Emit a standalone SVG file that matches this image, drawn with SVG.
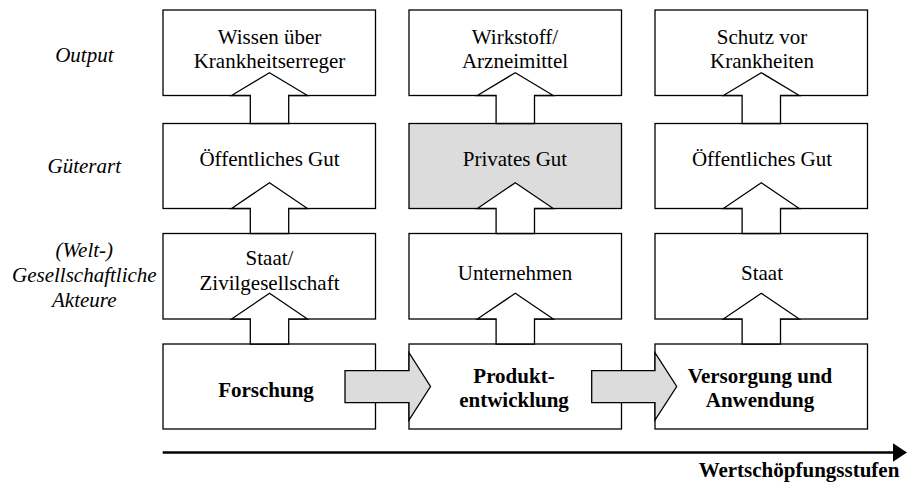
<svg xmlns="http://www.w3.org/2000/svg" width="907" height="488" viewBox="0 0 907 488">
<style>
text{font-family:"Liberation Serif","Times New Roman",serif;font-size:21px;fill:#000;text-anchor:middle}
.lab{font-style:italic}
.b{font-weight:bold}
.box{fill:#fff;stroke:#000;stroke-width:1.3}
.gray{fill:#dcdcdc}
.up{fill:#fff;stroke:#000;stroke-width:1.3;stroke-linejoin:miter}
.right{fill:#dcdcdc;stroke:#000;stroke-width:1.3}
.axis{stroke:#000;stroke-width:2.5;fill:none}
</style>
<rect width="907" height="488" fill="#fff"/>
<g id="labels">
<text class="lab" x="84.3" y="62.3">Output</text>
<text class="lab" x="84.3" y="173.3">Güterart</text>
<text class="lab" x="84.3" y="256.7">(Welt-)</text>
<text class="lab" x="84.3" y="281.5">Gesellschaftliche</text>
<text class="lab" x="84.3" y="306.5">Akteure</text>
</g>
<g id="n-wissen"><rect class="box" x="163" y="10" width="212.5" height="85.5"/><text x="269.5" y="44.3">Wissen über</text><text x="269.5" y="68.3">Krankheitserreger</text></g>
<g id="n-wirkstoff"><rect class="box" x="409" y="10" width="212.5" height="85.5"/><text x="515" y="44">Wirkstoff/</text><text x="515" y="68">Arzneimittel</text></g>
<g id="n-schutz"><rect class="box" x="655" y="10" width="212.5" height="85.5"/><text x="762" y="44">Schutz vor</text><text x="762" y="68">Krankheiten</text></g>
<g id="n-gut1"><rect class="box" x="163" y="123.5" width="212.5" height="85"/><text x="269.5" y="166">Öffentliches Gut</text></g>
<g id="n-gut2"><rect class="box gray" x="409" y="123.5" width="212.5" height="85"/><text x="515" y="166">Privates Gut</text></g>
<g id="n-gut3"><rect class="box" x="655" y="123.5" width="212.5" height="85"/><text x="762" y="166">Öffentliches Gut</text></g>
<g id="n-staat1"><rect class="box" x="163" y="233.5" width="212.5" height="85.5"/><text x="269.5" y="265">Staat/</text><text x="269.5" y="290">Zivilgesellschaft</text></g>
<g id="n-unternehmen"><rect class="box" x="409" y="233.5" width="212.5" height="85.5"/><text x="515" y="280">Unternehmen</text></g>
<g id="n-staat3"><rect class="box" x="655" y="233.5" width="212.5" height="85.5"/><text x="762" y="280">Staat</text></g>
<g id="n-forschung"><rect class="box" x="163" y="344" width="212.5" height="85"/><text class="b" x="266" y="396.7">Forschung</text></g>
<g id="n-produkt"><rect class="box" x="409" y="344" width="212.5" height="85"/><text class="b" x="514" y="383.3">Produkt-</text><text class="b" x="514" y="407.3">entwicklung</text></g>
<g id="n-versorgung"><rect class="box" x="655" y="344" width="212.5" height="85"/><text class="b" x="760" y="383.3">Versorgung und</text><text class="b" x="760" y="407.3">Anwendung</text></g>
<g id="connectors">
<polygon class="up" points="269.5,72.7 307.5,95.5 288.7,95.5 288.7,123.5 250.3,123.5 250.3,95.5 231.5,95.5"/>
<polygon class="up" points="515.3,72.7 553.3,95.5 534.5,95.5 534.5,123.5 496.1,123.5 496.1,95.5 477.3,95.5"/>
<polygon class="up" points="761.3,72.7 799.3,95.5 780.5,95.5 780.5,123.5 742.1,123.5 742.1,95.5 723.3,95.5"/>
<polygon class="up" points="269.5,182.7 307.5,208.5 288.7,208.5 288.7,233.5 250.3,233.5 250.3,208.5 231.5,208.5"/>
<polygon class="up" points="515.3,182.7 553.3,208.5 534.5,208.5 534.5,233.5 496.1,233.5 496.1,208.5 477.3,208.5"/>
<polygon class="up" points="761.3,182.7 799.3,208.5 780.5,208.5 780.5,233.5 742.1,233.5 742.1,208.5 723.3,208.5"/>
<polygon class="up" points="269.5,293.3 307.5,319 288.7,319 288.7,344 250.3,344 250.3,319 231.5,319"/>
<polygon class="up" points="515.3,293.3 553.3,319 534.5,319 534.5,344 496.1,344 496.1,319 477.3,319"/>
<polygon class="up" points="761.3,293.3 799.3,319 780.5,319 780.5,344 742.1,344 742.1,319 723.3,319"/>
<polygon class="right" points="345,370.7 409,370.7 409,352.7 430.5,386.5 409,420 409,402.7 345,402.7"/>
<polygon class="right" points="591.7,370.7 655,370.7 655,352.7 676.7,386.5 655,420 655,402.7 591.7,402.7"/>
<line class="axis" x1="162.7" y1="452.5" x2="895" y2="452.5"/>
<polygon points="893,443.3 907,452.5 893,461.7" fill="#000"/>
</g>
<text class="b" x="799" y="477.3">Wertschöpfungsstufen</text>
</svg>
